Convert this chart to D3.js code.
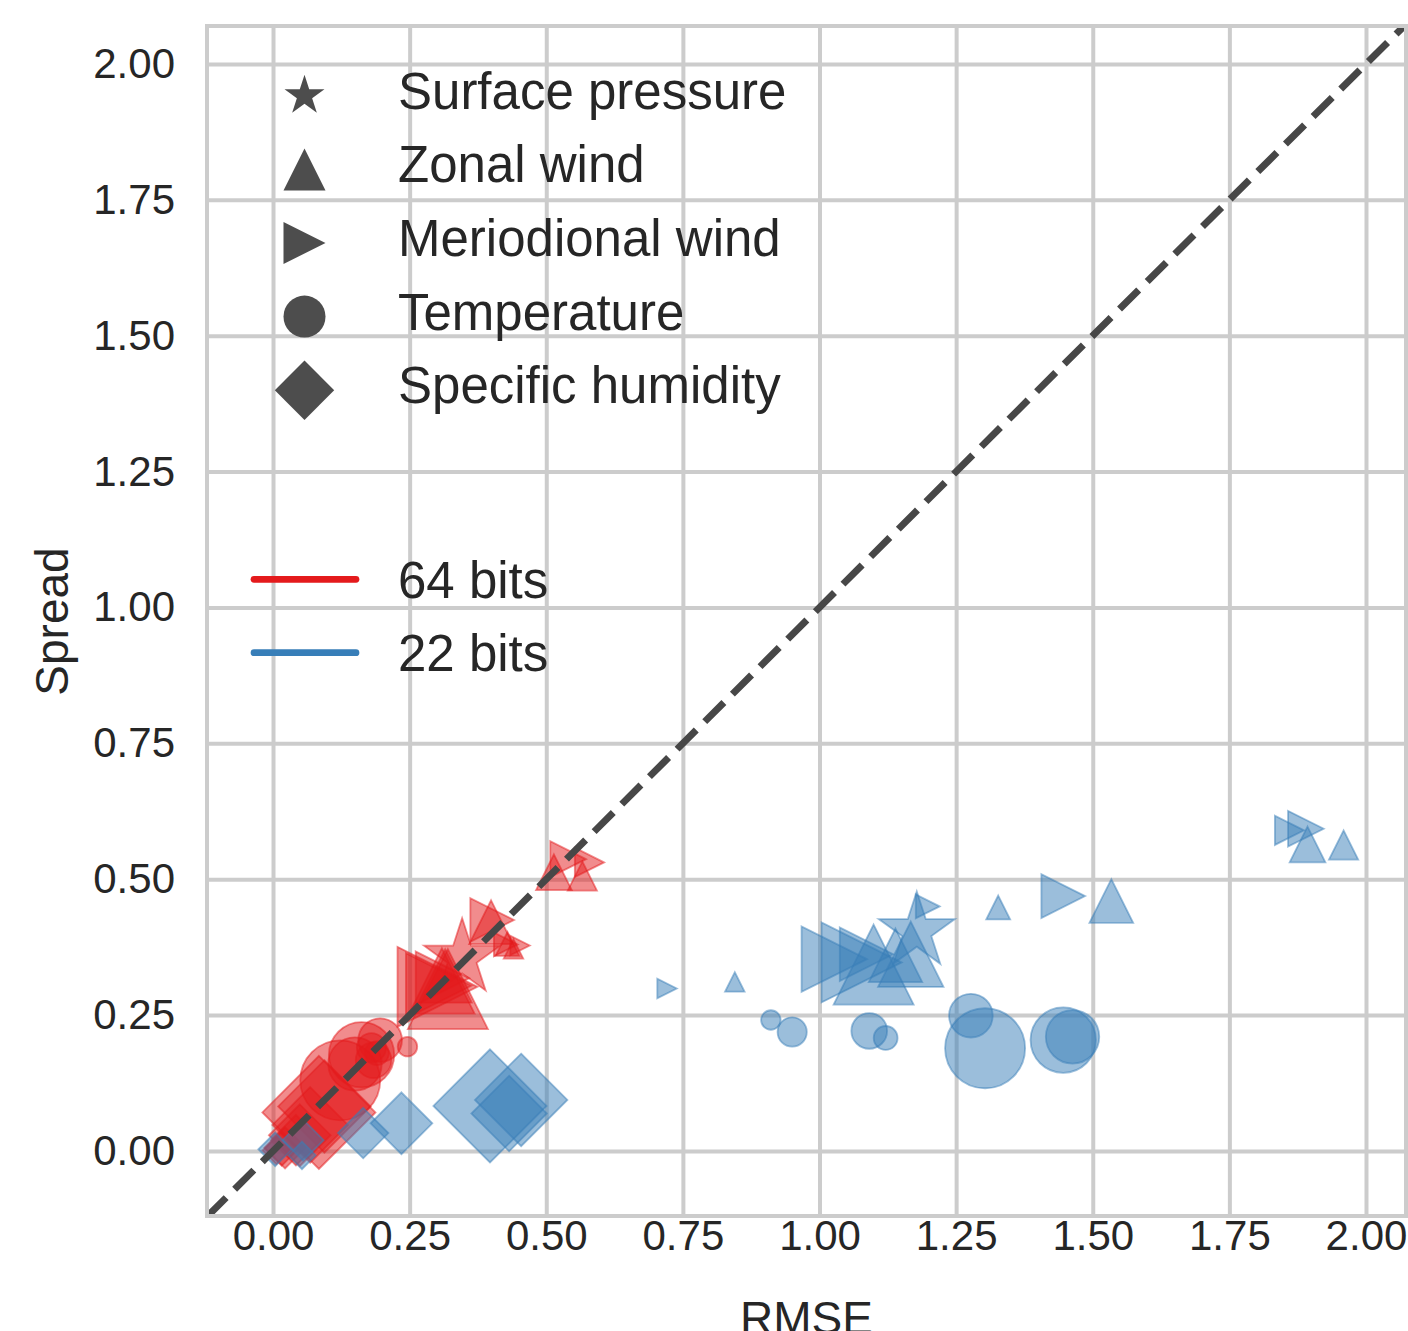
<!doctype html>
<html lang='en'>
  <head>
    <meta charset="utf-8">
    <script src="https://d3js.org/d3.v7.min.js"></script>
    <title>Spread vs RMSE</title>
  <style>
  body {
    margin: 0;
    background-color: white;
  }

  svg text {
    font-family: 'Liberation Sans', Arial, Helvetica, sans-serif;
    fill: #262626;
  }

  .grid line {
    stroke: #cccccc;
    stroke-width: 4;
  }

  .grid path, .ticks path, .ticks line {
    display: none;
  }

  .dot {
    fill-opacity: 0.5;
    stroke-opacity: 0.5;
    stroke-width: 1.8;
  }
  </style>
  </head>

  <body>
    <div id='chart'></div>
    <script>
    // legend / categories
    const variables = ['Surface pressure', 'Zonal wind', 'Meriodional wind', 'Temperature', 'Specific humidity'];
    const shapes = ['star', 'triangle-up', 'triangle-right', 'circle', 'diamond'];
    const precisions = ['64 bits', '22 bits'];
    const colors = ['#e41a1c', '#377eb8'];

    const xTicks = [0, 0.25, 0.5, 0.75, 1, 1.25, 1.5, 1.75, 2];
    const yTicks = [0, 0.25, 0.5, 0.75, 1, 1.25, 1.5, 1.75, 2];

    // model levels 1..8 (marker size grows with level), surface pressure only at one level
    const levels = [1, 2, 3, 4, 5, 6, 7, 8];
    const surfaceLevel = [8];

    // 64 bits
    const ps64Rmse   = [0.346];
    const ps64Spread = [0.355];
    const u64Rmse    = [0.440, 0.429, 0.566, 0.514, 0.399, 0.315, 0.309, 0.320];
    const u64Spread  = [0.372, 0.381, 0.506, 0.513, 0.421, 0.322, 0.313, 0.298];
    const v64Rmse    = [0.452, 0.426, 0.579, 0.540, 0.401, 0.310, 0.303, 0.301];
    const v64Spread  = [0.378, 0.380, 0.531, 0.537, 0.425, 0.318, 0.304, 0.302];
    const t64Rmse    = [0.246, 0.190, 0.180, 0.184, 0.196, 0.150, 0.162, 0.123];
    const t64Spread  = [0.192, 0.180, 0.190, 0.167, 0.204, 0.160, 0.177, 0.130];
    const q64Rmse    = [0.006, 0.016, 0.022, 0.042, 0.049, 0.068, 0.094, 0.084];
    const q64Spread  = [0.001, 0.004, 0.006, 0.020, 0.029, 0.048, 0.082, 0.071];

    // 22 bits
    const ps22Rmse   = [1.178];
    const ps22Spread = [0.404];
    const u22Rmse    = [0.845, 1.327, 1.959, 1.893, 1.534, 1.139, 1.167, 1.099];
    const u22Spread  = [0.311, 0.448, 0.563, 0.564, 0.460, 0.360, 0.362, 0.343];
    const v22Rmse    = [0.721, 1.198, 1.860, 1.890, 1.446, 1.086, 1.027, 1.077];
    const v22Spread  = [0.299, 0.450, 0.590, 0.593, 0.469, 0.362, 0.353, 0.347];
    const t22Rmse    = [0.911, 1.121, 0.950, 1.091, 1.277, 1.463, 1.446, 1.303];
    const t22Spread  = [0.241, 0.208, 0.219, 0.221, 0.249, 0.210, 0.204, 0.189];
    const q22Rmse    = [0.053, 0.004, 0.055, 0.165, 0.235, 0.432, 0.454, 0.397];
    const q22Spread  = [-0.008, 0.003, 0.020, 0.033, 0.051, 0.069, 0.094, 0.083];

    const series = [
      [0, 0, ps64Rmse, ps64Spread, surfaceLevel],
      [0, 1, u64Rmse, u64Spread, levels],
      [0, 2, v64Rmse, v64Spread, levels],
      [0, 3, t64Rmse, t64Spread, levels],
      [0, 4, q64Rmse, q64Spread, levels],
      [1, 0, ps22Rmse, ps22Spread, surfaceLevel],
      [1, 1, u22Rmse, u22Spread, levels],
      [1, 2, v22Rmse, v22Spread, levels],
      [1, 3, t22Rmse, t22Spread, levels],
      [1, 4, q22Rmse, q22Spread, levels]
    ];

    let points = [];
    series.forEach(s => {
      s[2].forEach((r, i) => points.push([s[0], s[1], r, s[3][i], s[4][i]]));
    });

    const wsvg = 1408;
    const hsvg = 1331;
    const plotLeft = 207, plotRight = 1406, plotTop = 26, plotBottom = 1216;

    const xScale = d3.scaleLinear().domain([-0.1208, 2.0732]).range([plotLeft, plotRight]);
    const yScale = d3.scaleLinear().domain([-0.1196, 2.0699]).range([plotBottom, plotTop]);
    // geometric growth of marker size with level
    const logSize = d3.scaleLinear().domain([1, 8]).range([Math.log(19.5), Math.log(80)]);
    const markerSize = lev => Math.exp(logSize(lev));

    function markerPath(shape, s) {
      const h = s / 2;
      if (shape === 'circle') {
        return 'M' + h + ',0A' + h + ',' + h + ' 0 1,1 ' + (-h) + ',0A' + h + ',' + h + ' 0 1,1 ' + h + ',0Z';
      }
      if (shape === 'triangle-up') {
        return 'M0,' + (-h) + 'L' + h + ',' + h + 'L' + (-h) + ',' + h + 'Z';
      }
      if (shape === 'triangle-right') {
        return 'M' + h + ',0L' + (-h) + ',' + (-h) + 'L' + (-h) + ',' + h + 'Z';
      }
      if (shape === 'diamond') {
        const d = s * Math.SQRT1_2;
        return 'M0,' + (-d) + 'L' + d + ',0L0,' + d + 'L' + (-d) + ',0Z';
      }
      // five pointed star
      let p = [];
      for (let k = 0; k < 10; k++) {
        const rr = k % 2 === 0 ? h : h * 0.381966;
        const a = -Math.PI / 2 + k * Math.PI / 5;
        p.push((rr * Math.cos(a)).toFixed(2) + ',' + (rr * Math.sin(a)).toFixed(2));
      }
      return 'M' + p.join('L') + 'Z';
    }

    const svg = d3.select('#chart')
                  .append('svg')
                  .attr('width', wsvg)
                  .attr('height', hsvg);

    svg.append('defs').append('clipPath')
        .attr('id', 'clip')
        .append('rect')
        .attr('x', plotLeft).attr('y', plotTop)
        .attr('width', plotRight - plotLeft).attr('height', plotBottom - plotTop);

    // grid
    svg.append('g')
        .attr('class', 'grid')
        .attr('transform', 'translate(0,' + plotBottom + ')')
        .call(d3.axisBottom(xScale).tickValues(xTicks).tickSize(-(plotBottom - plotTop)).tickFormat(''));

    svg.append('g')
        .attr('class', 'grid')
        .attr('transform', 'translate(' + plotLeft + ',0)')
        .call(d3.axisLeft(yScale).tickValues(yTicks).tickSize(-(plotRight - plotLeft)).tickFormat(''));

    // tick labels
    const xAxis = svg.append('g')
        .attr('class', 'ticks')
        .attr('transform', 'translate(0,' + plotBottom + ')')
        .call(d3.axisBottom(xScale).tickValues(xTicks).tickSize(0).tickPadding(4).tickFormat(d3.format('.2f')));
    xAxis.attr('font-size', 42).attr('font-family', null);

    const yAxis = svg.append('g')
        .attr('class', 'ticks')
        .attr('transform', 'translate(' + plotLeft + ',0)')
        .call(d3.axisLeft(yScale).tickValues(yTicks).tickSize(0).tickPadding(32).tickFormat(d3.format('.2f')));
    yAxis.attr('font-size', 42).attr('font-family', null);

    // scatter
    svg.append('g')
        .attr('clip-path', 'url(#clip)')
        .selectAll('path')
        .data(points)
        .enter()
        .append('path')
        .attr('class', 'dot')
        .attr('d', d => markerPath(shapes[d[1]], markerSize(d[4])))
        .attr('transform', d => 'translate(' + xScale(d[2]) + ',' + yScale(d[3]) + ')')
        .attr('fill', d => colors[d[0]])
        .attr('stroke', d => colors[d[0]]);

    // one to one line
    const lo = xScale.domain()[0], hi = xScale.domain()[1];
    svg.append('line')
        .attr('clip-path', 'url(#clip)')
        .attr('x1', xScale(lo)).attr('y1', yScale(lo))
        .attr('x2', xScale(hi)).attr('y2', yScale(hi))
        .attr('stroke', '#474747')
        .attr('stroke-width', 7)
        .attr('stroke-dasharray', '27,12');

    // frame
    svg.append('rect')
        .attr('x', plotLeft).attr('y', plotTop)
        .attr('width', plotRight - plotLeft).attr('height', plotBottom - plotTop)
        .attr('fill', 'none')
        .attr('stroke', '#cccccc')
        .attr('stroke-width', 4);

    // marker legend
    const legend = svg.append('g');
    variables.forEach((v, i) => {
      const cy = 95.8 + i * 73.6;
      legend.append('path')
          .attr('d', markerPath(shapes[i], 42))
          .attr('transform', 'translate(304.5,' + cy + ')')
          .attr('fill', '#4d4d4d');
      legend.append('text')
          .attr('x', 398)
          .attr('y', cy + 13)
          .attr('font-size', 51)
          .text(v);
    });

    // precision legend
    precisions.forEach((p, i) => {
      const cy = 579.3 + i * 73.4;
      legend.append('line')
          .attr('x1', 254).attr('x2', 356)
          .attr('y1', cy).attr('y2', cy)
          .attr('stroke', colors[i])
          .attr('stroke-width', 6.7)
          .attr('stroke-linecap', 'round');
      legend.append('text')
          .attr('x', 398)
          .attr('y', cy + 18.7)
          .attr('font-size', 51)
          .text(p);
    });

    // axis labels
    svg.append('text')
        .attr('x', (plotLeft + plotRight) / 2)
        .attr('y', 1334)
        .attr('text-anchor', 'middle')
        .attr('font-size', 46)
        .text('RMSE');

    svg.append('text')
        .attr('transform', 'translate(68,621.5) rotate(-90)')
        .attr('text-anchor', 'middle')
        .attr('font-size', 46)
        .text('Spread');
    </script>
  </body>
</html>
